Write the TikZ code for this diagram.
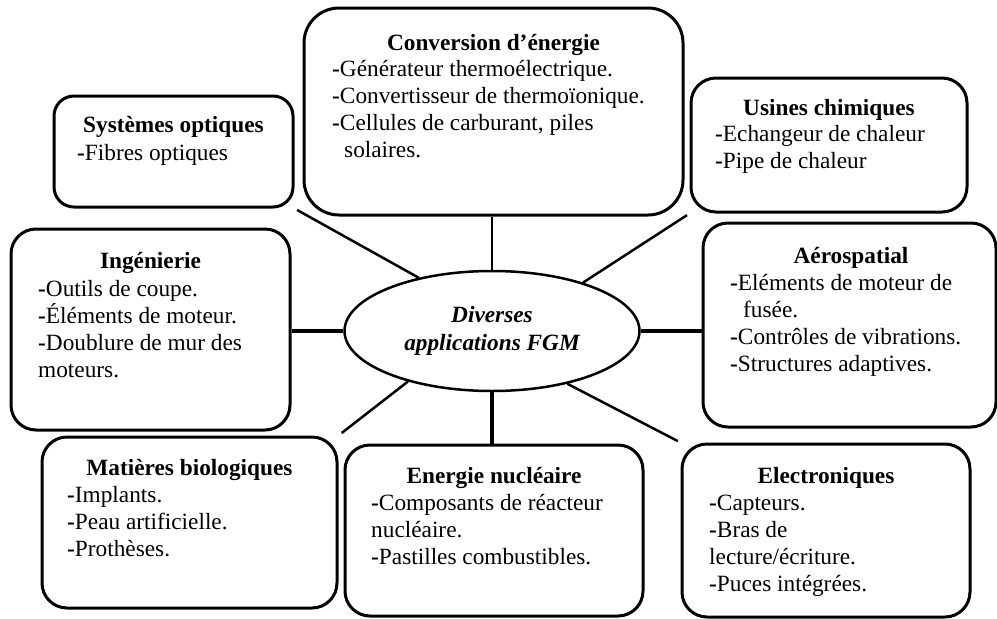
\documentclass[tikz,border=0pt]{standalone}
\usepackage{fontspec}
\setmainfont{Liberation Serif}
\usetikzlibrary{shapes.geometric}
\newcommand{\tiret}{\textbf{-}}

\begin{document}
\begin{tikzpicture}[x=1pt,y=-1pt]
    %
    % `appbox' is the rounded frame of each field of application.
    % `titre' and `liste' are the heading and the items in a frame
    % (a `liste' is placed by the baseline of its last line).
    % `lien' is used for the connectors to the centre.
    \tikzstyle{appbox} = [draw,line width=3pt,rounded corners=25pt,inner sep=0pt]
    \tikzstyle{titre} = [anchor=base,inner sep=0pt,font=\fontsize{23.3}{27}\selectfont\bfseries]
    \tikzstyle{liste} = [anchor=base west,inner sep=0pt,align=left,font=\fontsize{23.3}{27}\selectfont]
    \tikzstyle{lien} = [line width=2.5pt]
    \tikzstyle{lienfort} = [line width=4pt]
    \useasboundingbox (0,0) rectangle (997,619);
    %
    % Centre
    \node[draw,ellipse,line width=2.5pt,minimum width=295pt,minimum height=120pt,inner sep=0pt,align=center,
          font=\fontsize{23.3}{28}\selectfont\bfseries\itshape] (centre) at (492,331) {Diverses\\applications FGM};
    %
    % Top row
    \node[appbox,rounded corners=35pt,minimum width=379pt,minimum height=207pt] (conv) at (493.5,111.5) {};
    \node[titre] (conv-t) at (493.5,50) {Conversion d’énergie};
    \node[liste] (conv-l) at (332,157) {\tiret Générateur thermoélectrique.\\\tiret Convertisseur de thermoïonique.\\\tiret Cellules de carburant, piles\\\hspace*{12pt}solaires.};
    %
    \node[appbox,rounded corners=20pt,minimum width=239pt,minimum height=111pt] (optique) at (173.5,151.5) {};
    \node[titre] (optique-t) at (173.5,132) {Systèmes optiques};
    \node[liste] (optique-l) at (77,160) {\tiret Fibres optiques};
    %
    \node[appbox,minimum width=276pt,minimum height=134pt] (chimie) at (829,145) {};
    \node[titre] (chimie-t) at (829,115) {Usines chimiques};
    \node[liste] (chimie-l) at (715,168) {\tiret Echangeur de chaleur\\\tiret Pipe de chaleur};
    %
    % Middle row
    \node[appbox,minimum width=279pt,minimum height=201pt] (ingen) at (150.5,329.5) {};
    \node[titre] (ingen-t) at (150.5,268) {Ingénierie};
    \node[liste] (ingen-l) at (38,377) {\tiret Outils de coupe.\\\tiret Éléments de moteur.\\\tiret Doublure de mur des\\moteurs.};
    %
    \node[appbox,minimum width=293pt,minimum height=204pt] (aero) at (849.5,325) {};
    \node[titre] (aero-t) at (851,263) {Aérospatial};
    \node[liste] (aero-l) at (730,371) {\tiret Eléments de moteur de\\\hspace*{13pt}fusée.\\\tiret Contrôles de vibrations.\\\tiret Structures adaptives.};
    %
    % Bottom row
    \node[appbox,minimum width=295pt,minimum height=171pt] (bio) at (189.5,522.5) {};
    \node[titre] (bio-t) at (189.5,475) {Matières biologiques};
    \node[liste] (bio-l) at (67,556) {\tiret Implants.\\\tiret Peau artificielle.\\\tiret Prothèses.};
    %
    \node[appbox,minimum width=298pt,minimum height=171pt] (nucl) at (494,530.5) {};
    \node[titre] (nucl-t) at (494,483) {Energie nucléaire};
    \node[liste] (nucl-l) at (371,564) {\tiret Composants de réacteur\\nucléaire.\\\tiret Pastilles combustibles.};
    %
    \node[appbox,minimum width=288pt,minimum height=173pt] (elec) at (826,530.5) {};
    \node[titre] (elec-t) at (826,483) {Electroniques};
    \node[liste] (elec-l) at (709,591) {\tiret Capteurs.\\\tiret Bras de\\lecture/écriture.\\\tiret Puces intégrées.};
    %
    % Connectors
    \draw[lien] (centre.north) -- (centre.north |- conv.south);
    \draw[lien,shorten >=3pt] (centre.144) -- (optique.south east);
    \draw[lien,shorten >=3pt] (centre.28) -- (chimie.south west);
    \draw[lienfort] (centre.west) -- (centre.west -| ingen.east);
    \draw[lienfort] (centre.east) -- (centre.east -| aero.west);
    \draw[lien,shorten >=4pt] (centre.211) -- (bio.north east);
    \draw[lienfort] (centre.south) -- (centre.south |- nucl.north);
    \draw[lien,shorten >=3pt] (centre.325) -- (elec.north west);
    %
\end{tikzpicture}
\end{document}
